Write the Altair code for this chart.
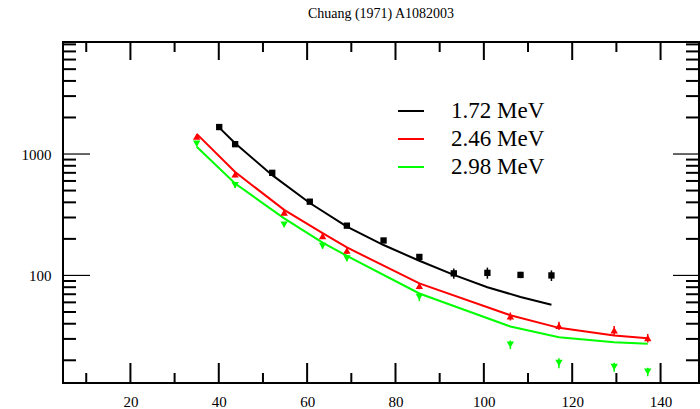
import altair as alt
import pandas as pd

title_text = "Chuang (1971) A1082003"
series_names = ["1.72 MeV", "2.46 MeV", "2.98 MeV"]
series_colors = ["#000000", "#ff0000", "#00ff00"]

# 1.72 MeV
ang_172 = [40.1, 43.7, 52.1, 60.6, 69.0, 77.3, 85.4, 93.2, 100.8, 108.3, 115.3]
ds_172 = [1668, 1205, 700, 405, 257, 194, 142, 104, 105, 101, 100]
err_172 = [30, 25, 14, 8, 5, 4, 4, 10, 11, 6, 10]
fit_172 = [1650, 1225, 670, 395, 252, 178, 132, 101, 80, 66.5, 57.4]

# 2.46 MeV and 2.98 MeV share angles
ang_hi = [35.0, 43.7, 54.8, 63.5, 69.0, 85.4, 106.0, 117.0, 129.5, 137.1]
ds_246 = [1390, 680, 330, 211, 160, 82, 46, 38.5, 35.3, 30.5]
err_246 = [60, 35, 17, 11, 9, 5, 3.5, 3, 3, 2.5]
fit_246 = [1465, 710, 347, 223, 170, 86, 47, 37, 32, 30.4]
ds_298 = [1215, 553, 262, 175, 138, 66.4, 26.9, 19.0, 17.6, 16.1]
err_298 = [50, 28, 13, 9, 7, 5, 2.2, 1.8, 1.5, 1.3]
fit_298 = [1150, 572, 295, 186, 145, 71, 38, 31, 28.1, 27.4]

x_labels = [20, 40, 60, 80, 100, 120, 140]
x_minor = [10, 30, 50, 70, 90, 110, 130]
y_labels = [100, 1000]
y_minor = [20, 30, 40, 50, 60, 70, 80, 90, 200, 300, 400, 500, 600, 700, 800, 900,
           2000, 3000, 4000, 5000, 6000, 7000, 8000]

X_DOMAIN = [4.74, 148.7]
Y_DOMAIN = [13.0, 8370]
W, H = 636, 341
FONT = "Liberation Serif"

xs = alt.Scale(domain=X_DOMAIN, nice=False, zero=False)
ys = alt.Scale(type="log", domain=Y_DOMAIN, nice=False)

xaxis = alt.Axis(values=x_labels, domain=False, ticks=False, grid=False, title=None,
                 labelFont=FONT, labelFontSize=15, labelColor="black", labelPadding=11)
yaxis = alt.Axis(values=y_labels, format="d", domain=False, ticks=False, grid=False, title=None,
                 labelFont=FONT, labelFontSize=15, labelColor="black", labelPadding=12)


def pts(ang, ds, err, name):
    return pd.DataFrame({"angle": ang, "ds": ds,
                         "lo": [d - e for d, e in zip(ds, err)],
                         "hi": [d + e for d, e in zip(ds, err)],
                         "series": name})


p172 = pts(ang_172, ds_172, err_172, series_names[0])
p246 = pts(ang_hi, ds_246, err_246, series_names[1])
p298 = pts(ang_hi, ds_298, err_298, series_names[2])

fits = pd.concat([
    pd.DataFrame({"angle": ang_172, "fit": fit_172, "series": series_names[0], "o": range(len(ang_172))}),
    pd.DataFrame({"angle": ang_hi, "fit": fit_246, "series": series_names[1], "o": range(len(ang_hi))}),
    pd.DataFrame({"angle": ang_hi, "fit": fit_298, "series": series_names[2], "o": range(len(ang_hi))}),
])

# plot frame
frame = alt.Chart(pd.DataFrame({"f": [0]})).mark_rect(
    fill=None, fillOpacity=0, stroke="black", strokeWidth=2).encode(
    x=alt.value(0), x2=alt.value(W), y=alt.value(0), y2=alt.value(H))

lines = alt.Chart(fits).mark_line(strokeWidth=2, clip=True).encode(
    x=alt.X("angle:Q", scale=xs, axis=xaxis),
    y=alt.Y("fit:Q", scale=ys, axis=yaxis),
    order="o:Q",
    color=alt.Color("series:N",
                    scale=alt.Scale(domain=series_names, range=series_colors),
                    legend=alt.Legend(orient="none", legendX=334, legendY=55, title=None,
                                      symbolType="stroke", symbolSize=676, symbolStrokeWidth=2,
                                      labelFont=FONT, labelFontSize=23, labelColor="black",
                                      labelOffset=26, rowPadding=2, labelLimit=300)),
)


def point_layers(df, color, shape, size):
    base = alt.Chart(df)
    bars = base.mark_rule(color=color, strokeWidth=1.5).encode(
        x=alt.X("angle:Q", scale=xs, axis=xaxis),
        y=alt.Y("lo:Q", scale=ys, axis=yaxis),
        y2="hi:Q",
    )
    marks = base.mark_point(shape=shape, filled=True, size=size, color=color, opacity=1).encode(
        x=alt.X("angle:Q", scale=xs, axis=xaxis),
        y=alt.Y("ds:Q", scale=ys, axis=yaxis),
    )
    return [bars, marks]


layers = [frame, lines]
layers += point_layers(p172, "#000000", "square", 40)
layers += point_layers(p246, "#ff0000", "triangle-up", 55)
layers += point_layers(p298, "#00ff00", "triangle-down", 55)

# inward ticks on all four sides
xmaj = pd.DataFrame({"v": x_labels})
xmin = pd.DataFrame({"v": x_minor})
ymaj = pd.DataFrame({"v": y_labels})
ymin = pd.DataFrame({"v": y_minor})


def xticks(df, y0, y1, sw):
    return alt.Chart(df).mark_rule(color="black", strokeWidth=sw).encode(
        x=alt.X("v:Q", scale=xs, axis=xaxis), y=alt.value(y0), y2=alt.value(y1))


def yticks(df, x0, x1, sw):
    return alt.Chart(df).mark_rule(color="black", strokeWidth=sw).encode(
        y=alt.Y("v:Q", scale=ys, axis=yaxis), x=alt.value(x0), x2=alt.value(x1))


layers += [
    xticks(xmaj, H, H - 20, 2), xticks(xmin, H, H - 10, 2),
    xticks(xmaj, 0, 18, 2), xticks(xmin, 0, 10, 2),
    yticks(ymaj, 0, 27, 1.2), yticks(ymin, 0, 13, 2),
    yticks(ymaj, W, W - 26, 1.2), yticks(ymin, W, W - 13, 2),
]

chart = alt.layer(*layers).properties(
    width=W, height=H,
    title=alt.TitleParams(title_text, font=FONT, fontSize=14, fontWeight="normal",
                          color="black", anchor="middle", offset=9, baseline="alphabetic"),
    autosize=alt.AutoSizeParams(type="none"),
    padding={"left": 63, "top": 42, "right": 1, "bottom": 26},
).configure(
    background="white", font=FONT
).configure_view(stroke=None).configure_axis(
    labelFont=FONT
).configure_legend(labelFont=FONT)

chart.save("out.html", embed_options={"renderer": "svg", "actions": False})
